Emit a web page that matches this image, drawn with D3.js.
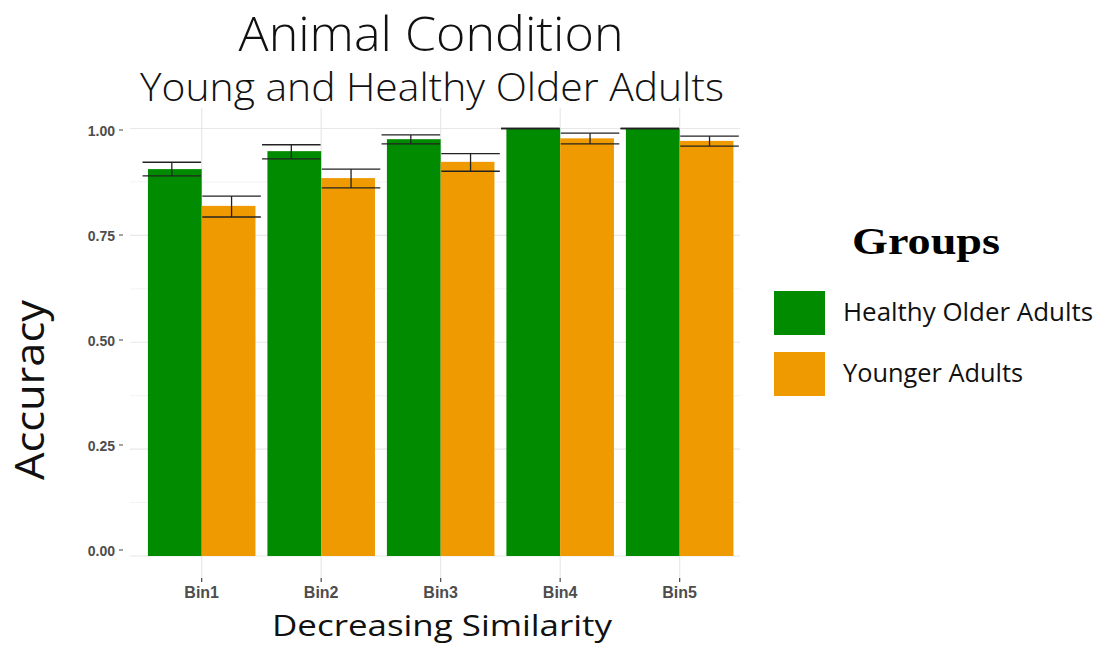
<!DOCTYPE html>
<html lang="en">
<head>
  <meta charset="UTF-8">
  <title>Animal Condition</title>
  <script src="https://cdn.jsdelivr.net/npm/d3@7"></script>
  <style>
    body { margin: 0; background: #fff; }
    .title { font-family: "Open Sans", sans-serif; font-weight: 300; fill: #111; }
    .tick-lab { font-family: "Liberation Sans", Arial, sans-serif; font-weight: bold; fill: #4d4d4d; }
  </style>
</head>
<body>
  <script>
var bins = ["Bin1", "Bin2", "Bin3", "Bin4", "Bin5"];
var groups = ["Healthy Older Adults", "Younger Adults"];
var colors = ["#008b00", "#ee9a00"];

// mean accuracy, and lower / upper error bar ends
var olderMean = [0.905, 0.947, 0.975, 1.000, 1.000];
var olderLow  = [0.889, 0.929, 0.964, 1.000, 1.000];
var olderHigh = [0.921, 0.962, 0.985, 1.000, 1.000];
var youngMean = [0.819, 0.884, 0.922, 0.977, 0.971];
var youngLow  = [0.793, 0.861, 0.900, 0.964, 0.959];
var youngHigh = [0.842, 0.905, 0.941, 0.989, 0.982];

var yMajor = [0, 0.25, 0.5, 0.75, 1];
var yMinor = [0.125, 0.375, 0.625, 0.875];
var yLabels = ["0.00", "0.25", "0.50", "0.75", "1.00"];

var w = 1101, h = 646;
var svg = d3.select("body").append("svg")
  .attr("width", w)
  .attr("height", h);

// panel edges (don't call it "top", that's window.top)
var pLeft = 130, pRight = 740, pTop = 108, pBottom = 556;

// bins sit at 1..5
var x = d3.scaleLinear().domain([0.4, 5.505]).range([pLeft, pRight]);
var y = d3.scaleLinear().domain([0, 1]).range([pBottom, 128.5]);
// tick labels in the picture sit a little off the grid
var yLab = d3.scaleLinear().domain([0, 1]).range([551, 131]);
var unit = x(2) - x(1);

// grid
svg.selectAll(".minor").data(yMinor).enter().append("line")
  .attr("x1", pLeft).attr("x2", pRight)
  .attr("y1", d => y(d)).attr("y2", d => y(d))
  .attr("stroke", "#f3f3f3").attr("stroke-width", 1);
svg.selectAll(".major").data(yMajor).enter().append("line")
  .attr("x1", pLeft).attr("x2", pRight)
  .attr("y1", d => y(d)).attr("y2", d => y(d))
  .attr("stroke", "#e8e8e8").attr("stroke-width", 1.2);
svg.selectAll(".vgrid").data(bins).enter().append("line")
  .attr("x1", (d, i) => x(i + 1)).attr("x2", (d, i) => x(i + 1))
  .attr("y1", pTop).attr("y2", 578)
  .attr("stroke", "#e8e8e8").attr("stroke-width", 1.2);

// bars
var series = [olderMean, youngMean];
var lows = [olderLow, youngLow];
var highs = [olderHigh, youngHigh];
var barW = 0.45;

series.forEach(function(vals, g) {
  svg.append("g").selectAll("rect").data(vals).enter().append("rect")
    .attr("x", (d, i) => x(i + 1 - barW + g * barW))
    .attr("width", unit * barW)
    .attr("y", d => y(d))
    .attr("height", d => y(0) - y(d))
    .attr("fill", colors[g]);
});

// error bars
series.forEach(function(vals, g) {
  var off = g === 0 ? -0.25 : 0.25;
  var eg = svg.append("g").attr("stroke", "#222").attr("stroke-width", 1.3);
  vals.forEach(function(d, i) {
    var cx = x(i + 1 + off);
    var hw = unit * 0.245;
    eg.append("line").attr("x1", cx).attr("x2", cx)
      .attr("y1", y(highs[g][i])).attr("y2", y(lows[g][i]));
    eg.append("line").attr("x1", cx - hw).attr("x2", cx + hw)
      .attr("y1", y(highs[g][i])).attr("y2", y(highs[g][i]));
    eg.append("line").attr("x1", cx - hw).attr("x2", cx + hw)
      .attr("y1", y(lows[g][i])).attr("y2", y(lows[g][i]));
  });
});

// y axis ticks + labels
svg.selectAll(".ytick").data(yMajor).enter().append("line")
  .attr("x1", 119).attr("x2", 123)
  .attr("y1", d => yLab(d) - 1).attr("y2", d => yLab(d) - 1)
  .attr("stroke", "#444").attr("stroke-width", 1);
svg.selectAll(".ylab").data(yMajor).enter().append("text")
  .attr("class", "tick-lab")
  .attr("x", 115).attr("y", d => yLab(d))
  .attr("dy", "0.35em")
  .attr("text-anchor", "end")
  .style("font-size", "14px")
  .text((d, i) => yLabels[i]);

// x axis ticks + labels
svg.selectAll(".xtick").data(bins).enter().append("line")
  .attr("x1", (d, i) => x(i + 1)).attr("x2", (d, i) => x(i + 1))
  .attr("y1", 578).attr("y2", 582)
  .attr("stroke", "#444").attr("stroke-width", 1.2);
svg.selectAll(".xlab").data(bins).enter().append("text")
  .attr("class", "tick-lab")
  .attr("x", (d, i) => x(i + 1)).attr("y", 598)
  .attr("text-anchor", "middle")
  .style("font-size", "16px")
  .text(d => d);

// titles -- the picture is a bit stretched sideways, so fit the widths
function fitText(sel, len) {
  return sel.attr("textLength", len).attr("lengthAdjust", "spacingAndGlyphs");
}
fitText(svg.append("text").attr("class", "title")
  .attr("x", 431).attr("y", 51).attr("text-anchor", "middle")
  .style("font-size", "47px").text("Animal Condition"), 385);
fitText(svg.append("text").attr("class", "title")
  .attr("x", 432).attr("y", 101).attr("text-anchor", "middle")
  .style("font-size", "38px").text("Young and Healthy Older Adults"), 584);
fitText(svg.append("text").attr("class", "title")
  .attr("x", 442).attr("y", 636).attr("text-anchor", "middle")
  .style("font-weight", "400")
  .style("font-size", "30px").text("Decreasing Similarity"), 340);
fitText(svg.append("text").attr("class", "title")
  .attr("transform", "translate(44,390) rotate(-90)")
  .attr("text-anchor", "middle")
  .style("font-weight", "400")
  .style("font-size", "40px").text("Accuracy"), 180);

// legend
fitText(svg.append("text")
  .attr("x", 926).attr("y", 254).attr("text-anchor", "middle")
  .style("font-family", "'Liberation Serif', 'Times New Roman', serif")
  .style("font-weight", "bold").style("font-size", "37px")
  .attr("fill", "#000")
  .text("Groups"), 148);

var legLen = [250, 180];
var leg = svg.selectAll(".leg").data(groups).enter().append("g")
  .attr("transform", (d, i) => "translate(774," + (291 + i * 61) + ")");
leg.append("rect")
  .attr("width", 51).attr("height", 44)
  .attr("fill", (d, i) => colors[i]);
leg.append("text").attr("class", "title")
  .attr("x", 69).attr("y", 21).attr("dy", "0.35em")
  .style("font-weight", "400")
  .style("font-size", "25px")
  .attr("textLength", (d, i) => legLen[i])
  .attr("lengthAdjust", "spacingAndGlyphs")
  .text(d => d);
  </script>
</body>
</html>
